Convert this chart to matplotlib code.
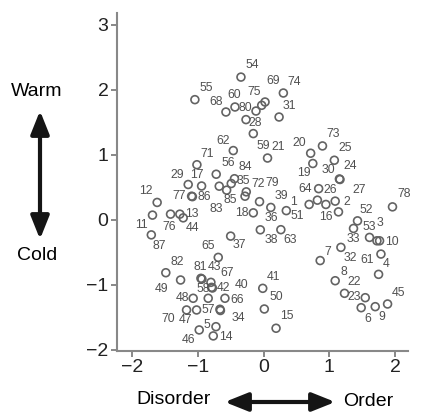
import numpy as np
import matplotlib
matplotlib.use("Agg")
import matplotlib.pyplot as plt
from matplotlib.patches import FancyArrowPatch

plt.rcParams['font.family'] = ['Liberation Sans', 'DejaVu Sans']

# point labels and their coordinates (dimension 1 = disorder/order, dimension 2 = cold/warm)
labels = [55, 54, 74, 69, 75, 80, 60, 68, 28, 31, 59, 21,
          62, 71, 56, 84, 35, 85, 83, 72, 79, 36, 39, 1, 18, 38, 63, 37,
          29, 17, 77, 86, 12, 11, 76, 13, 44, 87,
          73, 20, 25, 19, 30, 24, 26, 64, 51, 27, 2, 16, 78, 52,
          65, 82, 49, 81, 43, 67, 42, 40, 58, 48, 66, 70, 47, 57, 34, 5, 14, 46,
          41, 50, 15,
          53, 3, 10, 33, 32, 61, 4, 7, 8, 22, 23, 45, 6, 9]
xs = [-1.049, -0.347, 0.299, 0.020, -0.031, -0.118, -0.438, -0.576, -0.270, 0.234, -0.159, 0.058,
      -0.464, -1.018, -0.724, -0.446, -0.495, -0.565, -0.678, -0.266, -0.285, -0.064, 0.108, 0.344, -0.159, -0.052, 0.261, -0.504,
      -1.151, -0.947, -1.099, -1.087, -1.624, -1.695, -1.420, -1.278, -1.227, -1.713,
      0.895, 0.715, 1.076, 0.748, 1.153, 1.162, 0.837, 0.818, 0.692, 0.947, 1.089, 1.139, 1.962, 1.429,
      -0.693, -1.492, -1.267, -0.957, -0.942, -0.805, -0.794, -0.782, -0.846, -1.075, -0.591, -1.176, -1.023, -0.667, -0.660, -0.728, -0.769, -0.983,
      -0.015, 0.009, 0.188,
      1.612, 1.725, 1.765, 1.368, 1.176, 1.786, 1.750, 0.860, 1.089, 1.231, 1.547, 1.887, 1.485, 1.699]
ys = [1.850, 2.197, 1.952, 1.814, 1.763, 1.675, 1.737, 1.660, 1.543, 1.583, 1.328, 0.952,
      1.067, 0.849, 0.703, 0.634, 0.560, 0.458, 0.519, 0.432, 0.365, 0.281, 0.192, 0.143, 0.109, -0.152, -0.150, -0.249,
      0.545, 0.522, 0.365, 0.358, 0.269, 0.074, 0.089, 0.089, 0.032, -0.230,
      1.138, 1.026, 0.918, 0.868, 0.630, 0.622, 0.481, 0.304, 0.238, 0.238, 0.289, 0.124, 0.201, -0.014,
      -0.576, -0.812, -0.924, -0.898, -0.909, -0.960, -1.037, -1.047, -1.205, -1.205, -1.205, -1.385, -1.385, -1.374, -1.393, -1.642, -1.784, -1.692,
      -1.052, -1.370, -1.666,
      -0.269, -0.321, -0.321, -0.131, -0.422, -0.525, -0.837, -0.625, -0.935, -1.129, -1.196, -1.293, -1.350, -1.334]

# where each number sits relative to its circle (pixels, right / down)
label_offsets = {
    55: (11, -12), 54: (11, -12), 74: (11, -11), 69: (8, -21), 75: (-8, -13), 80: (-11, -3),
    60: (-1, -12), 68: (-10, -10), 28: (9, 3), 31: (10, -11), 59: (10, 12), 21: (11, -11),
    62: (-10, -10), 71: (10, -11), 56: (12, -11), 84: (11, -12), 35: (12, -3), 85: (4, 10),
    83: (-3, 23), 72: (12, -8), 79: (27, -13), 36: (12, 16), 39: (11, -11), 1: (7, -9),
    18: (-11, 0), 38: (11, 10), 63: (9, 10), 37: (9, 9),
    29: (-11, -9), 17: (-5, -11), 77: (-12, 0), 86: (12, 0), 12: (-11, -11), 11: (-11, 10),
    76: (-1, 13), 13: (12, 0), 44: (9, 10), 87: (8, 11),
    73: (11, -12), 20: (-11, -10), 25: (11, -12), 19: (-9, 10), 30: (-11, -9), 24: (10, -13),
    26: (12, 1), 64: (-12, -11), 51: (-12, 12), 27: (33, -14), 2: (12, 1), 16: (-13, 5),
    78: (12, -13), 52: (9, -11),
    65: (-10, -11), 82: (11, -11), 49: (-19, 9), 81: (-1, -11), 43: (13, -12), 67: (16, -9),
    42: (12, 1), 40: (29, -3), 58: (-5, -9), 48: (-11, 0), 66: (12, 2), 70: (-18, 9),
    47: (-11, 10), 57: (-12, 1), 34: (18, 8), 5: (-9, -2), 14: (13, 1), 46: (-11, 10),
    41: (11, -11), 50: (12, -12), 15: (11, -12),
    53: (0, -10), 3: (3, -18), 10: (12, 1), 33: (0, 11), 32: (9, 11), 61: (-14, 6),
    4: (8, -10), 7: (8, -9), 8: (9, -9), 22: (10, -11), 23: (-11, -1), 45: (11, -11),
    6: (7, 11), 9: (7, 10),
}

fig = plt.figure(figsize=(4.26, 4.12), dpi=100)
ax = fig.add_axes([0.274, 0.149, 0.684, 0.819])

ax.scatter(xs, ys, s=32, facecolors='none', edgecolors='#636363', linewidths=1.2, zorder=3)
for lab, x, y in zip(labels, xs, ys):
    dx, dy = label_offsets[lab]
    ax.annotate(str(lab), (x, y), xytext=(dx, -dy), textcoords='offset pixels',
                ha='center', va='center', fontsize=8.8, color='#505050')

ax.set_xlim(-2.24, 2.2)
ax.set_ylim(-2.01, 3.18)
ax.set_xticks([-2, -1, 0, 1, 2])
ax.set_yticks([-2, -1, 0, 1, 2, 3])
ax.set_xticklabels(['\u22122', '\u22121', '0', '1', '2'])
ax.set_yticklabels(['\u22122', '\u22121', '0', '1', '2', '3'])
ax.tick_params(labelsize=14, length=4, width=1.4, color='#888888', labelcolor='#222222', pad=2)
for side in ['top', 'right']:
    ax.spines[side].set_visible(False)
for side in ['left', 'bottom']:
    ax.spines[side].set_color('#888888')
    ax.spines[side].set_linewidth(1.5)

# axis meaning, drawn outside the plot
fig.text(37 / 426, 1 - 91 / 412, 'Warm', ha='center', va='center', fontsize=14)
fig.text(37 / 426, 1 - 256 / 412, 'Cold', ha='center', va='center', fontsize=14)
fig.text(174 / 426, 1 - 399 / 412, 'Disorder', ha='center', va='center', fontsize=14)
fig.text(368 / 426, 1 - 401 / 412, 'Order', ha='center', va='center', fontsize=14)

style = '<|-|>,head_length=1.0,head_width=0.4'
fig.patches.append(FancyArrowPatch((40 / 426, 1 - 108 / 412), (40 / 426, 1 - 242 / 412),
                                   transform=fig.transFigure, arrowstyle=style,
                                   mutation_scale=14, lw=3, color='#151515'))
fig.patches.append(FancyArrowPatch((222 / 426, 1 - 402 / 412), (338 / 426, 1 - 402 / 412),
                                   transform=fig.transFigure, arrowstyle=style,
                                   mutation_scale=14, lw=3, color='#151515'))

plt.savefig('out.png', dpi=100)
